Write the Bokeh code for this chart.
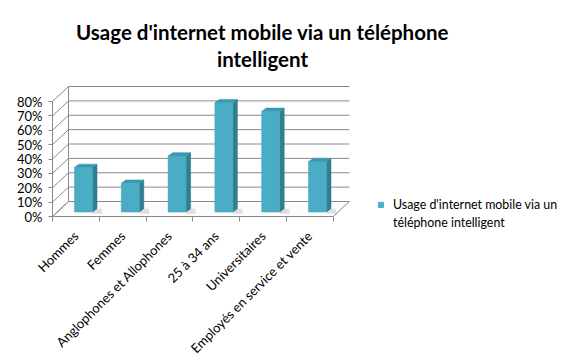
import math
from bokeh.plotting import figure
from bokeh.models import (Range1d, FixedTicker, NumeralTickFormatter, Label,
                          Legend, LegendItem, LinearAxis)
from bokeh.embed import file_html
from bokeh.resources import INLINE

# ---- data ----
categories = ["Hommes", "Femmes", "Anglophones et Allophones", "25 à 34 ans",
              "Universitaires", "Employés en service et vente"]
values = [0.31, 0.20, 0.39, 0.76, 0.70, 0.35]
y_ticks = [0.0, 0.1, 0.2, 0.3, 0.4, 0.5, 0.6, 0.7, 0.8]
series_label_lines = ["Usage d'internet mobile via un", "téléphone intelligent"]
title_lines = ["Usage d'internet mobile via un téléphone", "intelligent"]

# ---- geometry: the frame covers the whole canvas ----
W, H = 572, 356
X0_PX, Y0_PX = 52, 216   # pixel position of the (0 category, 0 %) corner
PX_X = 46.8              # pixels per category
PX_Y = 143.75            # pixels per 100 %
DX = 16 / PX_X           # wall depth
DY = 15 / PX_Y
n = len(categories)
ymax = y_ticks[-1]

FONT = "Lato"
GRID = "#8a8a8a"

p = figure(width=W, height=H, output_backend="svg", toolbar_location=None,
           x_range=Range1d(-X0_PX / PX_X, (W - X0_PX) / PX_X),
           y_range=Range1d(-(H - Y0_PX) / PX_Y, Y0_PX / PX_Y),
           x_axis_type=None, y_axis_type=None,
           min_border=0, min_border_left=0, min_border_right=0,
           min_border_top=0, min_border_bottom=0)
p.outline_line_color = None
p.background_fill_color = "white"
p.border_fill_color = "white"

# floor
p.patch([0, n, n + DX, DX], [0, 0, DY, DY], fill_color="#fcfcfc",
        line_color=GRID, line_width=1)
# back wall gridlines
p.multi_line([[DX, n + DX] for v in y_ticks], [[v + DY, v + DY] for v in y_ticks],
             line_color=GRID, line_width=1)
# left wall diagonals
p.multi_line([[0, DX] for v in y_ticks], [[v, v + DY] for v in y_ticks],
             line_color=GRID, line_width=1)
# back wall left edge
p.line([DX, DX], [DY, ymax + DY], line_color=GRID, line_width=1)

# bars (3D look)
bx0 = 0.47
bw = 18 / PX_X
base = 4.5 / PX_Y
ddx = 4.5 / PX_X
ddy = 3.3 / PX_Y
lefts = [i + bx0 for i in range(n)]
rights = [l + bw for l in lefts]
tops = [base + v for v in values]

# soft shadow on the floor, to the right of each bar
sh_xs = [[r, r + ddx + 0.12, r + ddx + 0.10, r] for r in rights]
sh_ys = [[base - 0.012, base - 0.012, base + ddy, base + ddy] for _ in rights]
p.patches(sh_xs, sh_ys, fill_color="#9a9a9a", fill_alpha=0.3, line_color=None)

side_xs = [[r, r + ddx, r + ddx, r] for r in rights]
side_ys = [[base, base + ddy, t + ddy, t] for t in tops]
p.patches(side_xs, side_ys, fill_color="#2f7f94", line_color="#2a7286", line_width=0.5)
top_xs = [[l, l + ddx, r + ddx, r] for l, r in zip(lefts, rights)]
top_ys = [[t, t + ddy, t + ddy, t] for t in tops]
p.patches(top_xs, top_ys, fill_color="#3a99b2", line_color="#3590a8", line_width=0.5)
front = p.quad(left=lefts, right=rights, bottom=[base] * n, top=tops,
               fill_color="#4bacc6", line_color="#449fb8", line_width=0.5)
# invisible renderer used for the second legend line
blank = p.scatter(x=[0], y=[0], size=1, fill_alpha=0, line_alpha=0)

# axes (fixed inside the frame at the chart's origin)
yax = LinearAxis(ticker=FixedTicker(ticks=y_ticks),
                 formatter=NumeralTickFormatter(format="0%"),
                 bounds=(0, ymax), fixed_location=0,
                 axis_line_color=GRID, major_tick_line_color=GRID,
                 major_tick_out=4, major_tick_in=0,
                 minor_tick_out=0, minor_tick_in=0,
                 major_label_standoff=6,
                 major_label_text_font=FONT, major_label_text_font_size="13px",
                 major_label_text_color="black")
p.add_layout(yax, "left")

centers = [i + 0.5 for i in range(n)]
xax = LinearAxis(ticker=FixedTicker(ticks=centers, minor_ticks=list(range(n + 1))),
                 major_label_overrides={c: lab for c, lab in zip(centers, categories)},
                 major_label_orientation=math.pi / 4,
                 bounds=(0, n), fixed_location=0,
                 axis_line_color=GRID, minor_tick_line_color=GRID,
                 major_tick_out=0, major_tick_in=0,
                 minor_tick_out=5, minor_tick_in=0,
                 major_label_standoff=12,
                 major_label_text_font=FONT, major_label_text_font_size="13px",
                 major_label_text_color="black")
p.add_layout(xax, "below")

# legend
legend = Legend(items=[LegendItem(label=series_label_lines[0], renderers=[front]),
                       LegendItem(label=series_label_lines[1], renderers=[blank])],
                location=(377, 126), padding=0, margin=0, spacing=3,
                glyph_width=7, glyph_height=7, label_standoff=9,
                label_height=15,
                label_text_font=FONT, label_text_font_size="12.4px",
                label_text_color="black",
                border_line_color=None, background_fill_alpha=0)
p.add_layout(legend)

# title (screen units measured from the frame's bottom-left = canvas bottom-left)
for line, yb in zip(title_lines, [31, 58]):
    p.add_layout(Label(x=262, y=H - yb, x_units="screen", y_units="screen",
                       text=line, text_align="center", text_baseline="alphabetic",
                       text_font=FONT, text_font_style="bold",
                       text_font_size="20.5px", text_color="black"))

open("out.html", "w").write(file_html(p, INLINE))
